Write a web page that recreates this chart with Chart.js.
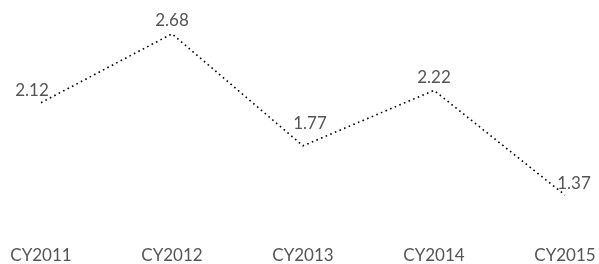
<!DOCTYPE html>
<html lang="en">
<head>
    <meta charset="UTF-8">
    <title>CY values</title>
    <script src="https://cdnjs.cloudflare.com/ajax/libs/Chart.js/4.4.1/chart.umd.min.js"></script>
    <style>
        body { margin: 0; background: #fff; }
        .chart-wrapper { width: 599px; height: 264px; }
    </style>
</head>
<body>
    <div class="chart-wrapper">
        <canvas id="lineChart"></canvas>
    </div>
    <script>
        const categories = ['CY2011', 'CY2012', 'CY2013', 'CY2014', 'CY2015'];
        const values = [2.12, 2.68, 1.77, 2.22, 1.37];

        const FONT = 'Lato, "Open Sans", sans-serif';
        const TEXT_COLOR = '#555555';

        // draws the value near each point, nudged away from the line
        const valueLabels = {
            id: 'valueLabels',
            afterDatasetsDraw(chart) {
                const ctx = chart.ctx;
                const meta = chart.getDatasetMeta(0);
                ctx.save();
                ctx.font = '17px ' + FONT;
                ctx.fillStyle = TEXT_COLOR;
                ctx.textAlign = 'center';
                ctx.textBaseline = 'middle';
                meta.data.forEach((pt, i) => {
                    const prevHigher = i > 0 && values[i - 1] > values[i];
                    const nextHigher = i < values.length - 1 && values[i + 1] > values[i];
                    let dx = 0, dy = -13;
                    if (prevHigher && nextHigher) dx = 7, dy = -22;
                    else if (nextHigher) dx = -9, dy = -12;
                    else if (prevHigher) dx = 9, dy = -12;
                    ctx.fillText(values[i].toFixed(2), pt.x + dx, pt.y + dy);
                });
                ctx.restore();
            }
        };

        new Chart(document.getElementById('lineChart'), {
            type: 'line',
            data: {
                labels: categories,
                datasets: [{
                    data: values,
                    borderColor: '#000',
                    borderWidth: 1.6,
                    borderDash: [1.6, 3.4],
                    pointRadius: 0,
                    tension: 0,
                    fill: false
                }]
            },
            options: {
                responsive: true,
                maintainAspectRatio: false,
                animation: false,
                layout: { padding: { top: 19, left: 41, right: 34, bottom: 0 } },
                plugins: { legend: { display: false }, tooltip: { enabled: false } },
                scales: {
                    x: {
                        grid: { display: false },
                        border: { display: false },
                        ticks: {
                            color: TEXT_COLOR,
                            font: { family: FONT, size: 17 },
                            padding: 21,
                            maxRotation: 0,
                            autoSkip: false
                        },
                        afterFit(scale) {
                            scale.height = 48;
                            scale.paddingLeft = 0;
                            scale.paddingRight = 0;
                        }
                    },
                    y: {
                        display: false,
                        min: 1.2,
                        max: 2.8
                    }
                }
            },
            plugins: [valueLabels]
        });
    </script>
</body>
</html>
